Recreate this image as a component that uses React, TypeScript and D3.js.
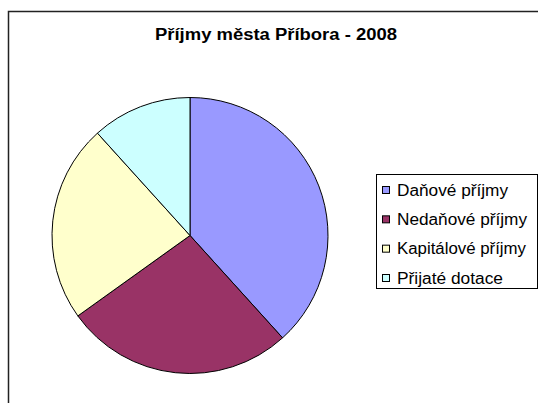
import React from "react";
import * as d3 from "d3";

const categories = ["Daňové příjmy", "Nedaňové příjmy", "Kapitálové příjmy", "Přijaté dotace"];
const values = [38.3, 26.8, 23.2, 11.7];
const colors = ["#9999FF", "#993366", "#FFFFCC", "#CCFFFF"];
// approximate rendered widths of the legend labels in the reference
const labelWidths = [111, 130, 129, 106];
const title = "Příjmy města Příbora - 2008";

const W = 538;
const H = 403;

const App = () => {
  const cx = 190;
  const cy = 235.5;
  const r = 138;

  const pie = d3.pie<number>().sort(null).value(d => d);
  const arc = d3.arc<d3.PieArcDatum<number>>().innerRadius(0).outerRadius(r);
  const arcs = pie(values);

  const legendY = d3.scalePoint<number>()
    .domain(d3.range(categories.length))
    .range([190, 278]);

  return (
    <svg width={W} height={H} style={{ position: "absolute", left: 0, top: 0 }}
      fontFamily="'Liberation Sans', Arial, sans-serif">
      <rect x={0} y={0} width={W} height={H} fill="#fff" />
      <rect x={8.5} y={11.5} width={540} height={400} fill="#fff" stroke="#222" strokeWidth={1.5} />
      <text x={276} y={39.5} textAnchor="middle" fontSize="16px" fontWeight="bold"
        textLength={242} lengthAdjust="spacingAndGlyphs">
        {title}
      </text>
      <g transform={`translate(${cx},${cy})`}>
        {arcs.map((a, i) => (
          <path key={i} d={arc(a) || ""} fill={colors[i]} stroke="#000" strokeWidth={1} />
        ))}
      </g>
      <rect x={376.5} y={174.5} width={161} height={114} fill="#fff" stroke="#000" strokeWidth={1} />
      {categories.map((c, i) => (
        <g key={c} transform={`translate(0,${legendY(i)})`}>
          <rect x={382.5} y={-3.5} width={7} height={7} fill={colors[i]} stroke="#000" strokeWidth={1} />
          <text x={397} y={5.5} fontSize="16px" textLength={labelWidths[i]}
            lengthAdjust="spacingAndGlyphs">
            {c}
          </text>
        </g>
      ))}
    </svg>
  );
};

export default App;
